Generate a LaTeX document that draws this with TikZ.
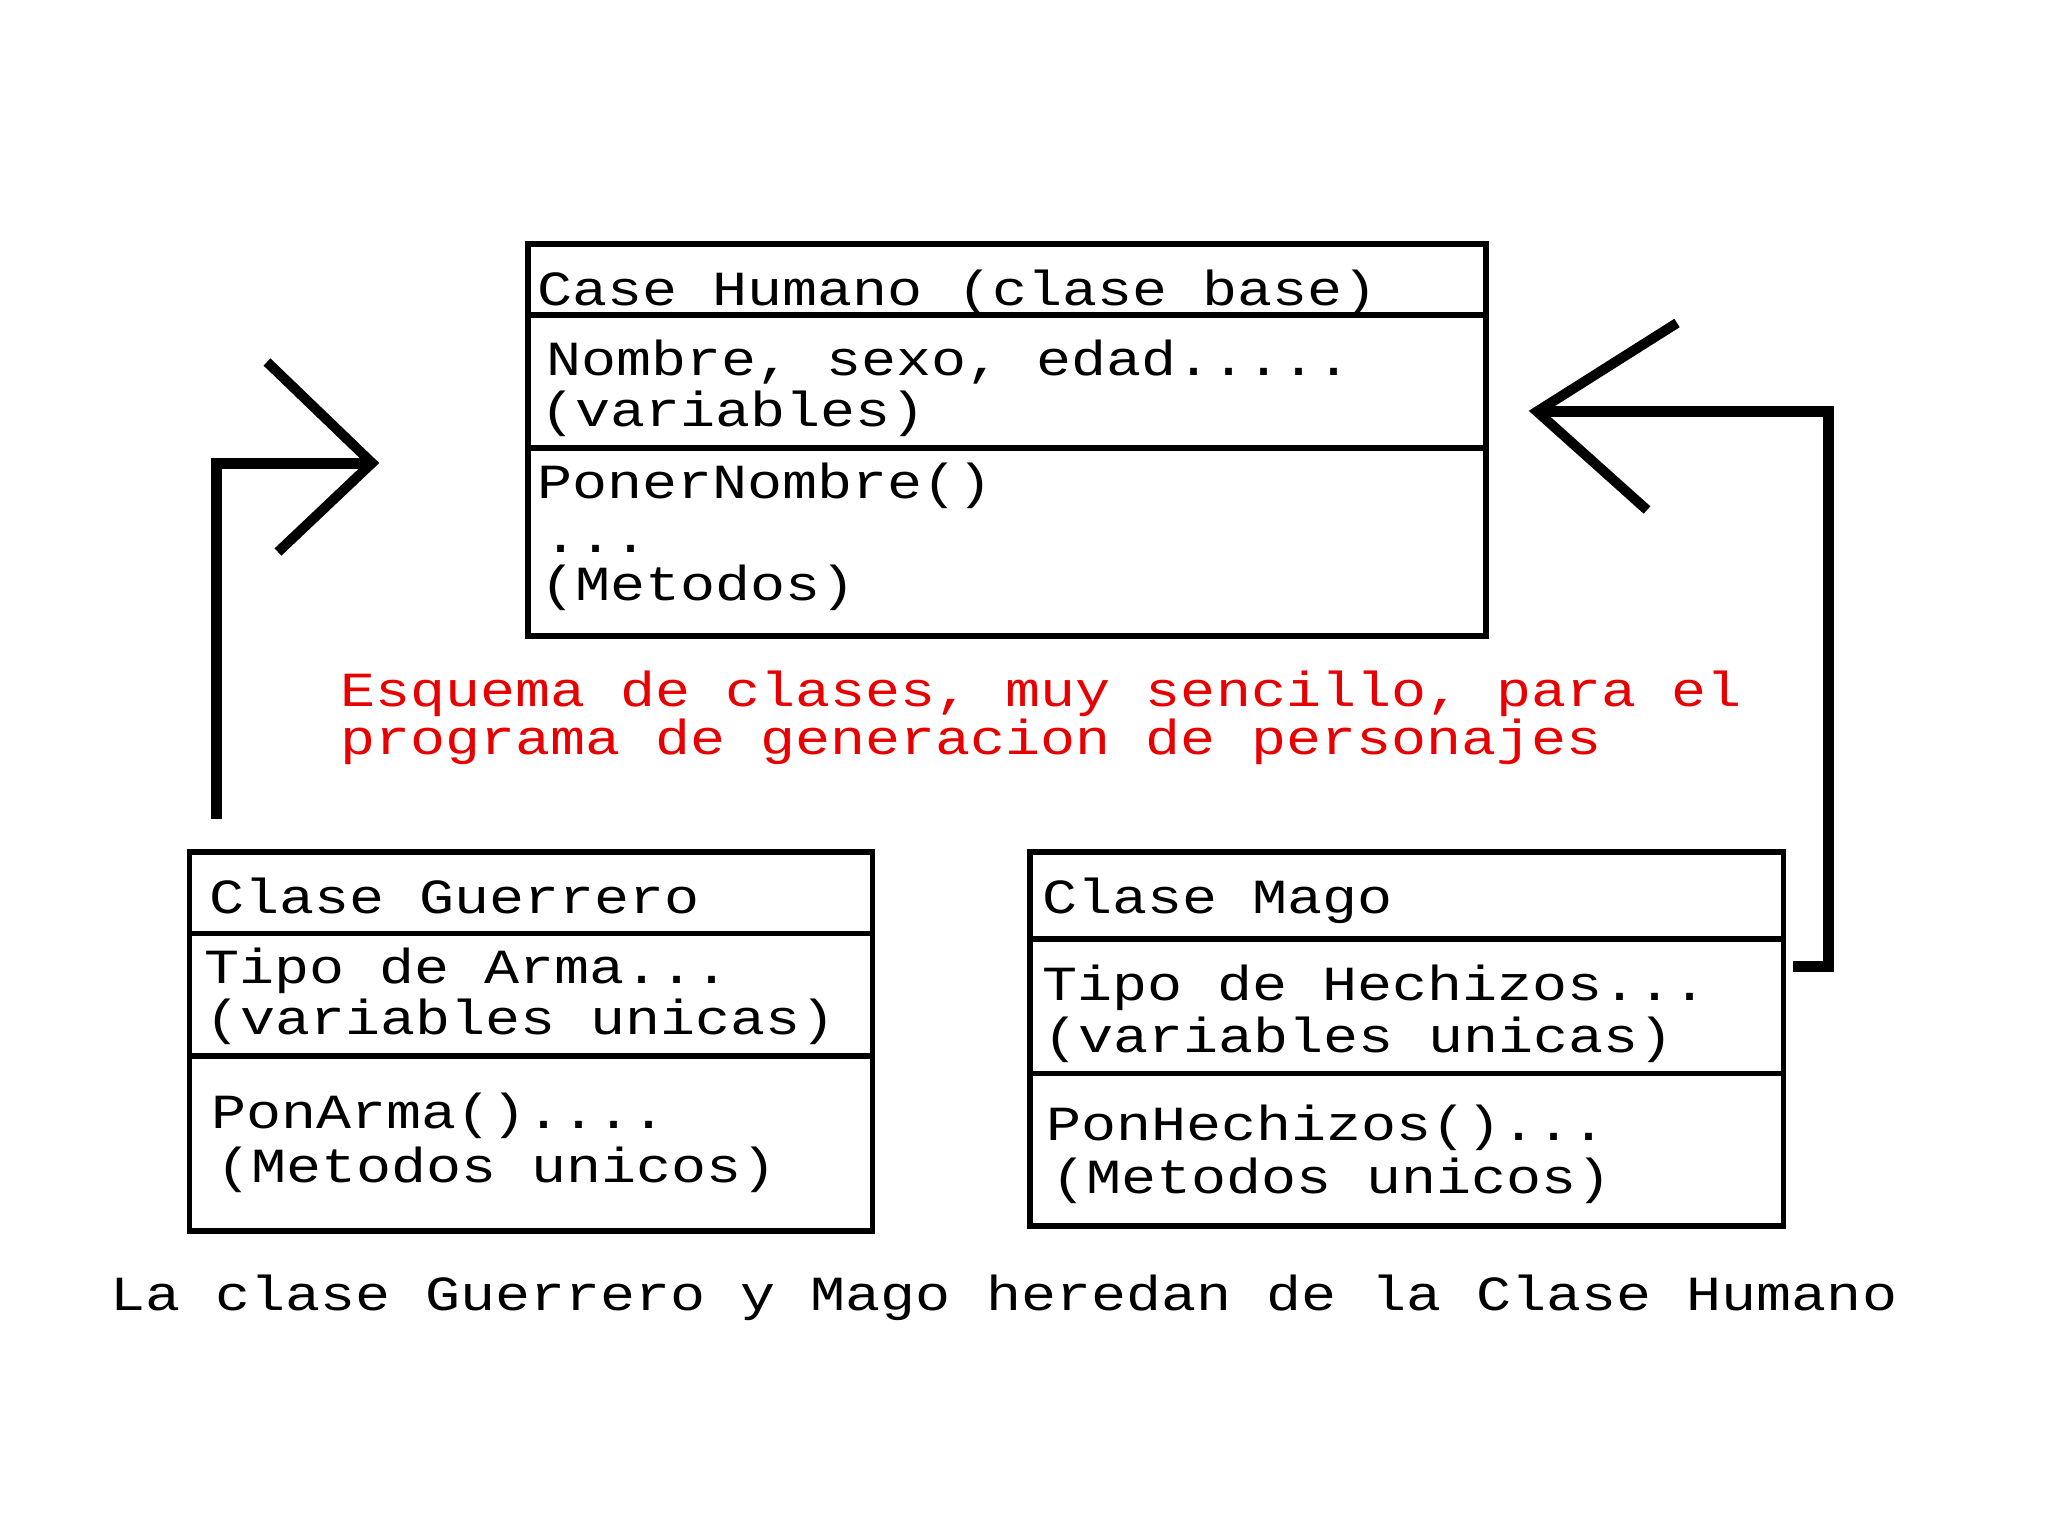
\documentclass[tikz,border=0pt]{standalone}
\usepackage{fontspec}
\setmonofont{Liberation Mono}
\definecolor{redtxt}{RGB}{232,0,0}
\newcommand{\sq}[1]{\scalebox{1}[0.84]{#1}}
\tikzset{
  boxline/.style={draw=black, line width=2.6pt, line join=miter},
  arrowline/.style={draw=black, line width=5.5pt, line join=miter, line cap=butt},
  txt/.style={anchor=base west, inner sep=0pt, outer sep=0pt, font=\ttfamily\fontsize{29.2}{35}\selectfont, text=black},
  redt/.style={txt, text=redtxt},
  classbox/.style={boxline, rectangle, inner sep=0pt, outer sep=0pt, anchor=north west}
}
\begin{document}
\begin{tikzpicture}[x=0.5pt, y=-0.5pt]
\useasboundingbox[fill=white] (0,0) rectangle (2048,1536);

% ---- top box (Humano)
\node[classbox, minimum width=479pt, minimum height=196pt] (hum) at (528,244) {};
\draw[boxline] (528,315) -- (1486,315);
\draw[boxline] (528,448) -- (1486,448);
\node[txt] (h1) at (537,305) {\sq{Case Humano (clase base)}};
\node[txt] (h2) at (546,375) {\sq{Nombre, sexo, edad.....}};
\node[txt] (h3) at (540,426) {\sq{(variables)}};
\node[txt] (h4) at (537,498) {\sq{PonerNombre()}};
\node[txt] (h5) at (543,552) {\sq{...}};
\node[txt] (h6) at (540,600) {\sq{(Metodos)}};

% ---- left box (Guerrero)
\node[classbox, minimum width=341.5pt, minimum height=189.5pt] (gue) at (189.5,852) {};
\draw[boxline] (189.5,933.5) -- (872.5,933.5);
\draw[boxline] (189.5,1056) -- (872.5,1056);
\node[txt] (g1) at (209,913) {\sq{Clase Guerrero}};
\node[txt] (g2) at (204,983) {\sq{Tipo de Arma...}};
\node[txt] (g3) at (205,1034) {\sq{(variables unicas)}};
\node[txt] (g4) at (211,1128) {\sq{PonArma()....}};
\node[txt] (g5) at (216,1182) {\sq{(Metodos unicos)}};

% ---- right box (Mago)
\node[classbox, minimum width=376.75pt, minimum height=187pt] (mag) at (1030,852) {};
\draw[boxline] (1030,939) -- (1783.5,939);
\draw[boxline] (1030,1073.5) -- (1783.5,1073.5);
\node[txt] (m1) at (1042,913) {\sq{Clase Mago}};
\node[txt] (m2) at (1042,1000) {\sq{Tipo de Hechizos...}};
\node[txt] (m3) at (1043,1052) {\sq{(variables unicas)}};
\node[txt] (m4) at (1046,1140) {\sq{PonHechizos()...}};
\node[txt] (m5) at (1051,1193) {\sq{(Metodos unicos)}};

% ---- red caption
\node[redt] (r1) at (340,706) {\sq{Esquema de clases, muy sencillo, para el}};
\node[redt] (r2) at (340,754) {\sq{programa de generacion de personajes}};

% ---- bottom caption
\node[txt] (b1) at (110,1310) {\sq{La clase Guerrero y Mago heredan de la Clase Humano}};

% ---- left inheritance arrow
\coordinate (la0) at (216,819);
\coordinate (la1) at (216,463);
\coordinate (latip) at (372,463);
\coordinate (lau) at (267,362);
\coordinate (lad) at (278,552);
\draw[arrowline] (la0) -- (la1) -- (latip);
\draw[arrowline, line width=5pt] (lau) -- (latip) -- (lad);

% ---- right inheritance arrow
\coordinate (ra0) at (1793,966);
\coordinate (ra1) at (1828,966);
\coordinate (ra2) at (1828,411.5);
\coordinate (ratip) at (1537,411.5);
\coordinate (rau) at (1677,323);
\coordinate (rad) at (1647,510);
\draw[arrowline] (ra0) -- (ra1) -- (ra2) -- (ratip);
\draw[arrowline, line width=5pt] (rau) -- (ratip) -- (rad);
\end{tikzpicture}
\end{document}
